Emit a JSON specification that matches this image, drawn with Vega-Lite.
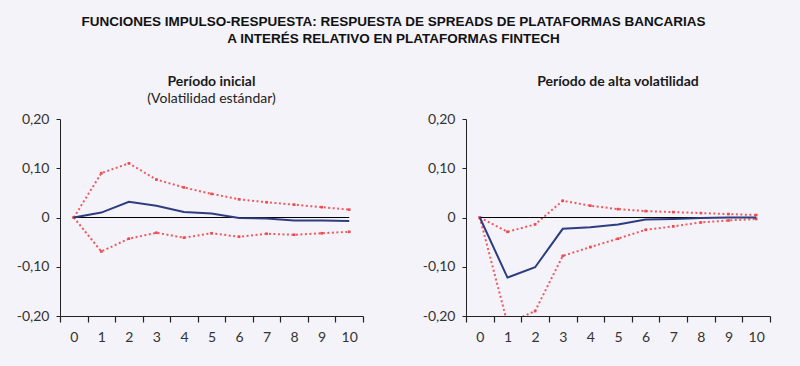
{
  "$schema": "https://vega.github.io/schema/vega-lite/v6.json",
  "background": "#f3f3f9",
  "padding": {"left": 16, "right": 38, "top": 14, "bottom": 30},
  "title": {
    "text": ["FUNCIONES IMPULSO-RESPUESTA: RESPUESTA DE SPREADS DE PLATAFORMAS BANCARIAS", "A INTERÉS RELATIVO EN PLATAFORMAS FINTECH"],
    "font": "Liberation Sans", "fontSize": 13.5, "fontWeight": "bold", "color": "#111111",
    "anchor": "middle", "lineHeight": 17, "offset": 30
  },
  "datasets": {
    "inicial": [
      {"x": 0, "serie": "central", "v": 0}, {"x": 1, "serie": "central", "v": 0.010}, {"x": 2, "serie": "central", "v": 0.032},
      {"x": 3, "serie": "central", "v": 0.024}, {"x": 4, "serie": "central", "v": 0.011}, {"x": 5, "serie": "central", "v": 0.008},
      {"x": 6, "serie": "central", "v": -0.001}, {"x": 7, "serie": "central", "v": -0.002}, {"x": 8, "serie": "central", "v": -0.006},
      {"x": 9, "serie": "central", "v": -0.006}, {"x": 10, "serie": "central", "v": -0.007},
      {"x": 0, "serie": "sup", "v": 0}, {"x": 1, "serie": "sup", "v": 0.090}, {"x": 2, "serie": "sup", "v": 0.110},
      {"x": 3, "serie": "sup", "v": 0.077}, {"x": 4, "serie": "sup", "v": 0.061}, {"x": 5, "serie": "sup", "v": 0.048},
      {"x": 6, "serie": "sup", "v": 0.037}, {"x": 7, "serie": "sup", "v": 0.031}, {"x": 8, "serie": "sup", "v": 0.026},
      {"x": 9, "serie": "sup", "v": 0.021}, {"x": 10, "serie": "sup", "v": 0.016},
      {"x": 0, "serie": "inf", "v": 0}, {"x": 1, "serie": "inf", "v": -0.069}, {"x": 2, "serie": "inf", "v": -0.043},
      {"x": 3, "serie": "inf", "v": -0.031}, {"x": 4, "serie": "inf", "v": -0.041}, {"x": 5, "serie": "inf", "v": -0.032},
      {"x": 6, "serie": "inf", "v": -0.039}, {"x": 7, "serie": "inf", "v": -0.033}, {"x": 8, "serie": "inf", "v": -0.035},
      {"x": 9, "serie": "inf", "v": -0.032}, {"x": 10, "serie": "inf", "v": -0.029}
    ],
    "alta": [
      {"x": 0, "serie": "central", "v": 0}, {"x": 1, "serie": "central", "v": -0.122}, {"x": 2, "serie": "central", "v": -0.101},
      {"x": 3, "serie": "central", "v": -0.023}, {"x": 4, "serie": "central", "v": -0.020}, {"x": 5, "serie": "central", "v": -0.014},
      {"x": 6, "serie": "central", "v": -0.004}, {"x": 7, "serie": "central", "v": -0.003}, {"x": 8, "serie": "central", "v": -0.001},
      {"x": 9, "serie": "central", "v": 0}, {"x": 10, "serie": "central", "v": 0},
      {"x": 0, "serie": "sup", "v": 0}, {"x": 1, "serie": "sup", "v": -0.029}, {"x": 2, "serie": "sup", "v": -0.014},
      {"x": 3, "serie": "sup", "v": 0.034}, {"x": 4, "serie": "sup", "v": 0.024}, {"x": 5, "serie": "sup", "v": 0.017},
      {"x": 6, "serie": "sup", "v": 0.013}, {"x": 7, "serie": "sup", "v": 0.011}, {"x": 8, "serie": "sup", "v": 0.009},
      {"x": 9, "serie": "sup", "v": 0.007}, {"x": 10, "serie": "sup", "v": 0.005},
      {"x": 0, "serie": "inf", "v": 0}, {"x": 1, "serie": "inf", "v": -0.215}, {"x": 2, "serie": "inf", "v": -0.190},
      {"x": 3, "serie": "inf", "v": -0.078}, {"x": 4, "serie": "inf", "v": -0.060}, {"x": 5, "serie": "inf", "v": -0.043},
      {"x": 6, "serie": "inf", "v": -0.025}, {"x": 7, "serie": "inf", "v": -0.018}, {"x": 8, "serie": "inf", "v": -0.010},
      {"x": 9, "serie": "inf", "v": -0.006}, {"x": 10, "serie": "inf", "v": -0.003}
    ]
  },
  "config": {
    "view": {"stroke": null},
    "axis": {"labelFont": "Lato", "labelFontSize": 14, "labelColor": "#333333", "domainColor": "#222222", "tickColor": "#222222", "grid": false, "title": null, "labelOverlap": false},
    "title": {"font": "Lato", "fontSize": 14, "fontWeight": "bold", "color": "#1a1a1a", "subtitleFont": "Lato", "subtitleFontSize": 14, "subtitleColor": "#222222", "subtitlePadding": 3, "offset": 6},
    "concat": {"spacing": 58}
  },
  "hconcat": [
    {
      "width": 303, "height": 197,
      "title": {"text": "Período inicial", "subtitle": "(Volatilidad estándar)"},
      "data": {"name": "inicial"},
      "resolve": {"axis": {"x": "independent"}},
      "layer": [
        {
          "transform": [{"filter": "datum.serie != 'central'"}],
          "mark": {"type": "line", "color": "#ef5a5e", "strokeWidth": 2, "strokeDash": [2, 2.5], "clip": true},
          "encoding": {
            "x": {"field": "x", "type": "quantitative",
              "scale": {"domain": [-0.5, 10.5], "nice": false, "zero": false},
              "axis": {"orient": "bottom", "values": [-0.5, 0.5, 1.5, 2.5, 3.5, 4.5, 5.5, 6.5, 7.5, 8.5, 9.5, 10.5],
                "tickCount": 50, "labels": false, "ticks": true, "tickWidth": 1.2, "tickSize": 6, "domain": true}},
            "y": {"field": "v", "type": "quantitative",
              "scale": {"domain": [-0.2, 0.2], "nice": false, "zero": false},
              "axis": {"values": [-0.2, -0.1, 0, 0.1, 0.2], "tickSize": 4, "labelPadding": 7, "labelOverlap": false,
                "labelExpr": "datum.value == 0 ? '0' : (datum.value < 0 ? '-' : '') + replace(format(abs(datum.value), '.2f'), '.', ',')"}},
            "detail": {"field": "serie"}
          }
        },
        {
          "transform": [{"filter": "datum.serie != 'central'"}],
          "mark": {"type": "square", "color": "#ee4a50", "size": 7, "opacity": 1, "clip": true},
          "encoding": {"x": {"field": "x", "type": "quantitative", "axis": null}, "y": {"field": "v", "type": "quantitative"}}
        },
        {
          "data": {"values": [{"a": 0, "b": 10, "y": 0}]},
          "mark": {"type": "rule", "color": "#000000", "strokeWidth": 1.2},
          "encoding": {"x": {"field": "a", "type": "quantitative", "axis": null}, "x2": {"field": "b"}, "y": {"field": "y", "type": "quantitative"}}
        },
        {
          "transform": [{"filter": "datum.serie == 'central'"}],
          "mark": {"type": "line", "color": "#2e3d80", "strokeWidth": 2},
          "encoding": {
            "x": {"field": "x", "type": "quantitative",
              "axis": {"orient": "bottom", "values": [0, 1, 2, 3, 4, 5, 6, 7, 8, 9, 10], "tickCount": 50, "format": "d",
                "ticks": false, "domain": false, "labelPadding": 14, "labelFlush": false}},
            "y": {"field": "v", "type": "quantitative"}}
        }
      ]
    },
    {
      "width": 304, "height": 197,
      "title": {"text": "Período de alta volatilidad", "subtitle": " "},
      "data": {"name": "alta"},
      "resolve": {"axis": {"x": "independent"}},
      "layer": [
        {
          "transform": [{"filter": "datum.serie != 'central'"}],
          "mark": {"type": "line", "color": "#ef5a5e", "strokeWidth": 2, "strokeDash": [2, 2.5], "clip": true},
          "encoding": {
            "x": {"field": "x", "type": "quantitative",
              "scale": {"domain": [-0.5, 10.5], "nice": false, "zero": false},
              "axis": {"orient": "bottom", "values": [-0.5, 0.5, 1.5, 2.5, 3.5, 4.5, 5.5, 6.5, 7.5, 8.5, 9.5, 10.5],
                "tickCount": 50, "labels": false, "ticks": true, "tickWidth": 1.2, "tickSize": 6, "domain": true}},
            "y": {"field": "v", "type": "quantitative",
              "scale": {"domain": [-0.2, 0.2], "nice": false, "zero": false},
              "axis": {"values": [-0.2, -0.1, 0, 0.1, 0.2], "tickSize": 4, "labelPadding": 7, "labelOverlap": false,
                "labelExpr": "datum.value == 0 ? '0' : (datum.value < 0 ? '-' : '') + replace(format(abs(datum.value), '.2f'), '.', ',')"}},
            "detail": {"field": "serie"}
          }
        },
        {
          "transform": [{"filter": "datum.serie != 'central'"}],
          "mark": {"type": "square", "color": "#ee4a50", "size": 7, "opacity": 1, "clip": true},
          "encoding": {"x": {"field": "x", "type": "quantitative", "axis": null}, "y": {"field": "v", "type": "quantitative"}}
        },
        {
          "data": {"values": [{"a": 0, "b": 10, "y": 0}]},
          "mark": {"type": "rule", "color": "#000000", "strokeWidth": 1.2},
          "encoding": {"x": {"field": "a", "type": "quantitative", "axis": null}, "x2": {"field": "b"}, "y": {"field": "y", "type": "quantitative"}}
        },
        {
          "transform": [{"filter": "datum.serie == 'central'"}],
          "mark": {"type": "line", "color": "#2e3d80", "strokeWidth": 2},
          "encoding": {
            "x": {"field": "x", "type": "quantitative",
              "axis": {"orient": "bottom", "values": [0, 1, 2, 3, 4, 5, 6, 7, 8, 9, 10], "tickCount": 50, "format": "d",
                "ticks": false, "domain": false, "labelPadding": 14, "labelFlush": false}},
            "y": {"field": "v", "type": "quantitative"}}
        }
      ]
    }
  ]
}
